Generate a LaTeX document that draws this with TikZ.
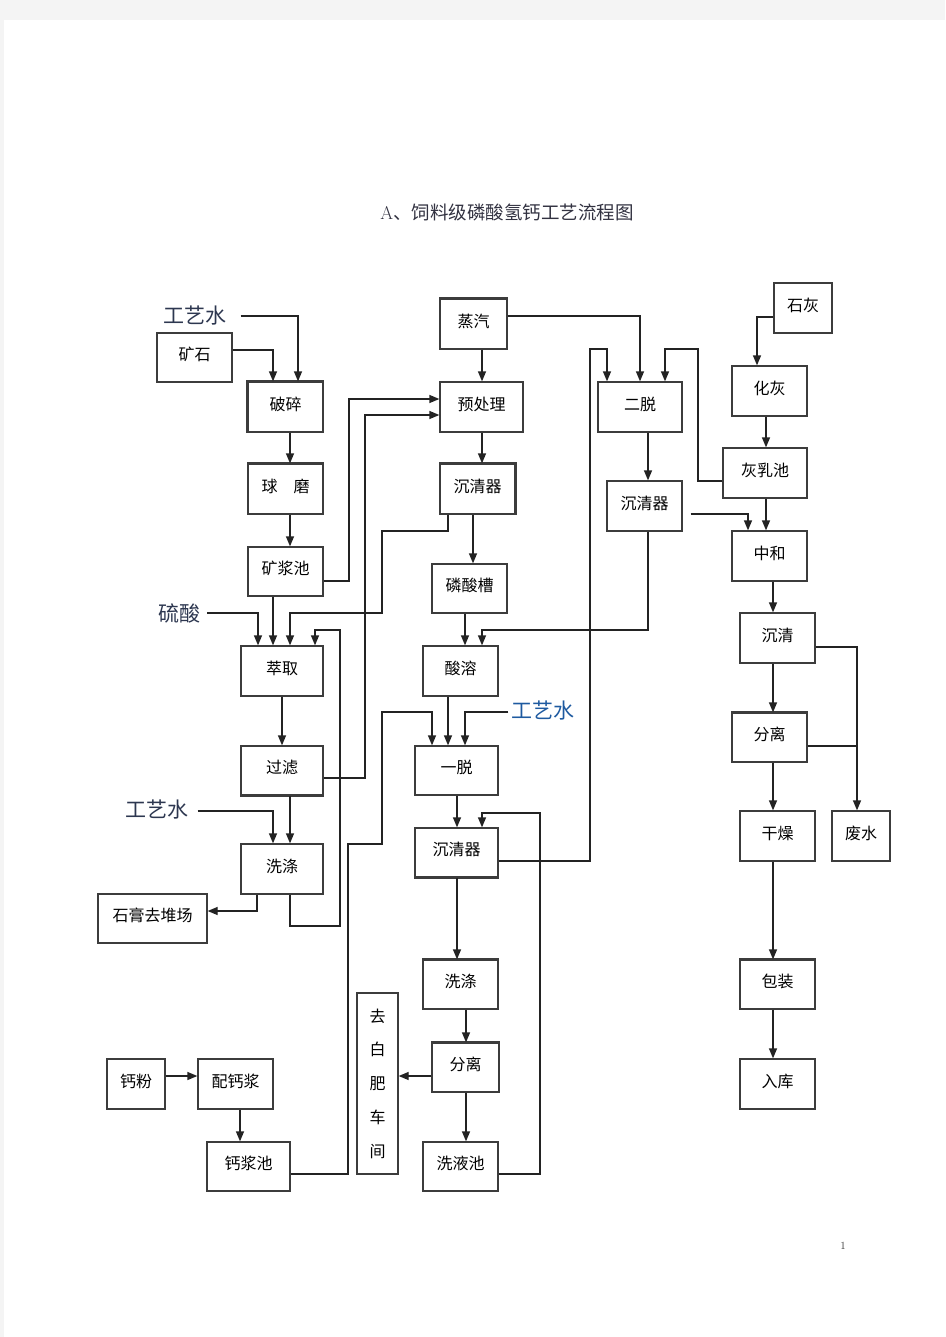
\documentclass[tikz,border=0pt]{standalone}
\usepackage{fontspec}
\newfontfamily\cjk{Noto Sans CJK SC}
\usetikzlibrary{arrows.meta}
\definecolor{lnc}{RGB}{35,35,35}
\definecolor{bdc}{RGB}{60,60,60}
\definecolor{labc}{RGB}{45,55,80}
\definecolor{labb}{RGB}{30,90,160}
\definecolor{titc}{RGB}{50,50,65}
\definecolor{pagebg}{RGB}{244,244,244}
\newcommand\bx[6]{\node[box,boxt,minimum width={(#4-#2)*1pt},minimum height={(#5-#3)*1pt}] (#1) at ({(#2+#4)/2},{(#3+#5)/2}) {#6};}
\begin{document}
\begin{tikzpicture}[x=1pt,y=-1pt,
  box/.style={draw=bdc,line width=1.3pt,inner sep=0pt,font=\cjk\fontsize{16}{16}\selectfont,text=black},
  boxt/.style={text height=11pt,text depth=5pt},
  arr/.style={draw=lnc,line width=1.3pt,-{Triangle[length=10pt,width=8pt]}},
  conn/.style={draw=lnc,line width=1.3pt},
  thk/.style={draw=bdc,line width=2.6pt},
  lbl/.style={font=\cjk\fontsize{21}{21}\selectfont,text=labc,inner sep=0pt}]
\fill[pagebg] (0,0) rectangle (945,1337);
\fill[white] (4,20) rectangle (945,1337);
\useasboundingbox (0,0) rectangle (945,1337);

% title and page number
\node[font=\cjk\fontsize{18.5}{18.5}\selectfont,text=titc] (title) at (507,212) {{\rmfamily A}、饲料级磷酸氢钙工艺流程图};
\node[font=\fontsize{11}{11}\selectfont,text=black!80] (pgno) at (843,1246) {1};

% labels
\node[lbl] (gy1) at (195,316) {工艺水};
\node[lbl] (ls) at (179,613) {硫酸};
\node[lbl] (gy2) at (157,810) {工艺水};
\node[lbl,text=labb] (gy3) at (543,711) {工艺水};

% boxes left column
\bx{ks}{157}{333}{232}{382}{矿石}
\bx{ps}{248}{382}{323}{432}{破碎}
\bx{qm}{248}{464}{323}{514}{球\hspace{16pt}磨}
\bx{kjc}{248}{547}{323}{596}{矿浆池}
\bx{cq}{241}{646}{323}{696}{萃取}
\bx{gl}{241}{746}{323}{795}{过滤}
\bx{xd1}{241}{844}{323}{894}{洗涤}
\bx{sg}{98}{894}{207}{943}{石膏去堆场}
% middle column
\bx{zq}{440}{299}{507}{349}{蒸汽}
\bx{ycl}{440}{382}{523}{432}{预处理}
\bx{cqq1}{440}{464}{515}{514}{沉清器}
\bx{lsc}{432}{564}{507}{613}{磷酸槽}
\bx{sr}{423}{646}{498}{696}{酸溶}
\bx{yt}{415}{746}{498}{795}{一脱}
\bx{cqq3}{415}{828}{498}{877}{沉清器}
\bx{xd2}{423}{960}{498}{1009}{洗涤}
\bx{fl2}{432}{1043}{499}{1092}{分离}
\bx{xyc}{423}{1142}{498}{1191}{洗液池}
\node[box,minimum width=41pt,minimum height=181pt,align=center,font=\cjk\fontsize{16}{33.75}\selectfont] (qbf) at (377.5,1083.5) {去\\白\\肥\\车\\间};
\bx{gf}{107}{1059}{165}{1109}{钙粉}
\bx{pgj}{198}{1059}{273}{1109}{配钙浆}
\bx{gjc}{207}{1142}{290}{1191}{钙浆池}
% right part
\bx{ed}{598}{382}{682}{432}{二脱}
\bx{cqq2}{607}{481}{682}{531}{沉清器}
\bx{sh}{774}{283}{832}{333}{石灰}
\bx{hh}{732}{366}{807}{416}{化灰}
\bx{hrc}{723}{448}{807}{498}{灰乳池}
\bx{zh}{732}{531}{807}{581}{中和}
\bx{cq2}{740}{613}{815}{663}{沉清}
\bx{fl}{732}{713}{807}{762}{分离}
\bx{gz}{740}{811}{815}{861}{干燥}
\bx{fs}{832}{811}{890}{861}{废水}
\bx{bz}{740}{960}{815}{1009}{包装}
\bx{rk}{740}{1059}{815}{1109}{入库}

% thicker edges
\draw[thk] (ps.south west) -- (ps.north west) -- (ps.north east);
\draw[thk] (qm.north west) -- (qm.north east);
\draw[thk] (zq.north west) -- (zq.north east);
\draw[thk] (cqq1.north west) -- (cqq1.north east) -- (cqq1.south east);
\draw[thk] (gl.south west) -- (gl.south east);
\draw[thk] (cqq3.south west) -- (cqq3.south east);
\draw[thk] (fl.north west) -- (fl.north east);
\draw[thk] (bz.north west) -- (bz.north east);
\draw[thk] (fl2.north west) -- (fl2.north east);
\draw[thk] (xd2.north west) -- (xd2.north east);

% left column connectors
\draw[arr] ([xshift=14pt]gy1.east) -| (298,0 |- ps.north);
\draw[arr] (ks.east |- 0,350) -| (273,0 |- ps.north);
\draw[arr] (ps.south -| 290,0) -- (qm.north -| 290,0);
\draw[arr] (qm.south -| 290,0) -- (kjc.north -| 290,0);
\draw[arr] (kjc.east |- 0,581) -- (349,581) -- (349,399) -- (ycl.west |- 0,399);
\draw[arr] ([xshift=7pt]ls.east |- 0,613) -| (258,0 |- cq.north);
\draw[arr] (kjc.south -| 273,0) -- (cq.north -| 273,0);
\draw[arr] (cqq1.south -| 448,0) -- (448,531) -- (382,531) -- (382,613) -- (290,613) -- (cq.north -| 290,0);
\draw[arr] (xd1.south -| 290,0) -- (290,926) -- (340,926) -- (340,630) -- (315,630) -- (cq.north -| 315,0);
\draw[arr] (cq.south -| 282,0) -- (gl.north -| 282,0);
\draw[arr] (gl.east |- 0,778) -- (365,778) -- (365,415) -- (ycl.west |- 0,415);
\draw[arr] ([xshift=9pt]gy2.east |- 0,811) -| (273,0 |- xd1.north);
\draw[arr] (gl.south -| 290,0) -- (xd1.north -| 290,0);
\draw[arr] (xd1.south -| 257,0) -- (257,911) -- (sg.east |- 0,911);

% middle connectors
\draw[arr] (zq.south -| 482,0) -- (ycl.north -| 482,0);
\draw[arr] (zq.east |- 0,316) -| (640,0 |- ed.north);
\draw[arr] (ycl.south -| 482,0) -- (cqq1.north -| 482,0);
\draw[arr] (cqq1.south -| 473,0) -- (lsc.north -| 473,0);
\draw[arr] (lsc.south -| 465,0) -- (sr.north -| 465,0);
\draw[arr] (cqq2.south -| 648,0) -- (648,630) -- (482,630) -- (sr.north -| 482,0);
\draw[arr] (ed.south -| 648,0) -- (cqq2.north -| 648,0);
\draw[arr] (cqq3.east |- 0,861) -- (590,861) -- (590,349) -- (607,349) -- (ed.north -| 607,0);
\draw[arr] (hrc.west |- 0,481) -- (698,481) -- (698,349) -- (665,349) -- (ed.north -| 665,0);
\draw[arr] ([xshift=8pt]cqq2.east |- 0,514) -| (748,0 |- zh.north);
\draw[arr] (sr.south -| 448,0) -- (yt.north -| 448,0);
\draw[arr] ([xshift=-3pt]gy3.west |- 0,712) -| (465,0 |- yt.north);
\draw[arr] (gjc.east |- 0,1174) -- (348,1174) -- (348,844) -- (382,844) -- (382,712) -- (432,712) -- (yt.north -| 432,0);
\draw[arr] (yt.south -| 457,0) -- (cqq3.north -| 457,0);
\draw[arr] (xyc.east |- 0,1174) -- (540,1174) -- (540,813) -- (482,813) -- (cqq3.north -| 482,0);
\draw[arr] (cqq3.south -| 457,0) -- (xd2.north -| 457,0);
\draw[arr] (xd2.south -| 466,0) -- (fl2.north -| 466,0);
\draw[arr] (fl2.west |- 0,1076) -- (qbf.east |- 0,1076);
\draw[arr] (fl2.south -| 466,0) -- (xyc.north -| 466,0);
\draw[arr] (gf.east |- 0,1076) -- (pgj.west |- 0,1076);
\draw[arr] (pgj.south -| 240,0) -- (gjc.north -| 240,0);

% right connectors
\draw[arr] (sh.west |- 0,317) -| (757,0 |- hh.north);
\draw[arr] (hh.south -| 766,0) -- (hrc.north -| 766,0);
\draw[arr] (hrc.south -| 766,0) -- (zh.north -| 766,0);
\draw[arr] (zh.south -| 773,0) -- (cq2.north -| 773,0);
\draw[arr] (cq2.south -| 773,0) -- (fl.north -| 773,0);
\draw[arr] (cq2.east |- 0,647) -| (857,0 |- fs.north);
\draw[conn] (fl.east |- 0,746) -- (857,746);
\draw[arr] (fl.south -| 773,0) -- (gz.north -| 773,0);
\draw[arr] (gz.south -| 773,0) -- (bz.north -| 773,0);
\draw[arr] (bz.south -| 773,0) -- (rk.north -| 773,0);
\end{tikzpicture}
\end{document}
